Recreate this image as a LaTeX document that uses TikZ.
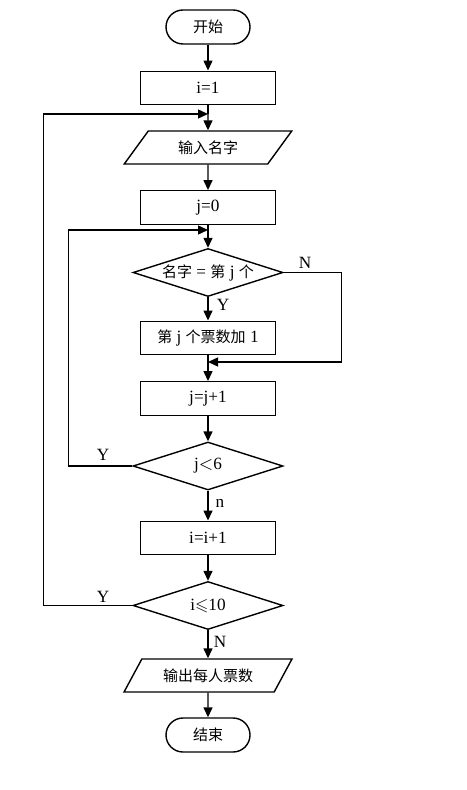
\documentclass[tikz,border=0pt]{standalone}
\usepackage{fontspec}
\usepackage{amssymb}
\setmainfont{Liberation Serif}
\newfontfamily\cjkf{Noto Sans CJK SC}
\newcommand{\cjk}{\cjkf\fontsize{7.5pt}{9pt}\selectfont}
\usetikzlibrary{shapes.geometric,arrows.meta}
\begin{document}
\begin{tikzpicture}[x=0.5pt,y=-0.5pt,
  every node/.style={font=\fontsize{8.6pt}{10pt}\selectfont, line width=0.7pt},
  box/.style={draw, rectangle, minimum width=67.5pt, minimum height=16.75pt, inner sep=0pt},
  term/.style={draw, rectangle, rounded corners=8.5pt, minimum width=42pt, minimum height=17pt, inner sep=0pt},
  dec/.style={draw, diamond, minimum width=75pt, minimum height=24pt, inner sep=0pt, aspect=3},
  io/.style={draw, trapezium, trapezium left angle=49, trapezium right angle=131, trapezium stretches=true, minimum width=84pt, minimum height=16.5pt, inner sep=0pt},
  arr/.style={line width=0.7pt, -{Triangle[length=5pt,width=4.5pt]}},
  ln/.style={line width=0.7pt},
  lab/.style={inner sep=0pt}
]
\useasboundingbox (0,0) rectangle (466,790);
\node[term] (start) at (208,27) {\cjk 开始};
\node[box] (i1) at (208,88) {i=1};
\coordinate (m1) at (208,114);
\node[io] (in) at (208,147.5) {\cjk 输入名字};
\node[box] (j0) at (208,207.5) {j=0};
\coordinate (m2) at (208,230);
\node[dec] (d1) at (208,272.5) {{\cjk 名字} = {\cjk 第} j {\cjk 个}};
\node[box] (inc) at (208,338) {{\cjk 第} j {\cjk 个票数加} 1};
\coordinate (m3) at (208,362);
\node[box] (jj) at (208,398.5) {j=j+1};
\node[dec] (d2) at (208,466) {j$<$6};
\node[box] (ii) at (208,538) {i=i+1};
\node[dec] (d3) at (208,605.5) {i$\leqslant$10};
\node[io] (out) at (208,675.5) {\cjk 输出每人票数};
\node[term] (end) at (208,735) {\cjk 结束};

\draw[arr] (start) -- (i1);
\draw[ln] (i1) -- (m1);
\draw[arr] (m1) -- (in);
\draw[arr] (in) -- (j0);
\draw[ln] (j0) -- (m2);
\draw[arr] (m2) -- (d1);
\draw[arr] (d1) -- (inc);
\draw[ln] (inc) -- (m3);
\draw[arr] (m3) -- (jj);
\draw[arr] (d1.east) -- ++(58,0) |- (m3);
\draw[arr] (jj) -- (d2);
\draw[arr] (d2.west) -- ++(-64,0) |- (m2);
\draw[arr] (d2) -- (ii);
\draw[arr] (ii) -- (d3);
\draw[arr] (d3.west) -- ++(-89,0) |- (m1);
\draw[arr] (d3) -- (out);
\draw[arr] (out) -- (end);

\node[lab] (lN1) at (305,263) {N};
\node[lab] (lY1) at (223,305) {Y};
\node[lab] (lY2) at (103,455) {Y};
\node[lab] (ln2) at (220,503) {n};
\node[lab] (lY3) at (103,597) {Y};
\node[lab] (lN3) at (220,642) {N};
\end{tikzpicture}
\end{document}
